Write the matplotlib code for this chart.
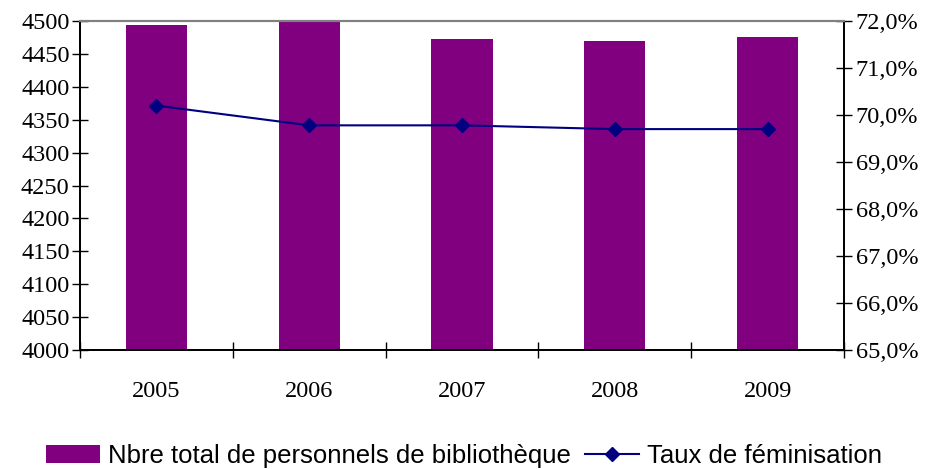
"""
Personnels de bibliothèque et taux de féminisation, 2005-2009
"""

import matplotlib
matplotlib.use("Agg")
import matplotlib.pyplot as plt
from matplotlib.ticker import FuncFormatter

# Data
years = ["2005", "2006", "2007", "2008", "2009"]
personnels = [4494, 4506, 4473, 4470, 4476]
feminisation = [70.2, 69.78, 69.78, 69.7, 69.7]

bar_label = "Nbre total de personnels de bibliothèque"
line_label = "Taux de féminisation"

fig = plt.figure(figsize=(9.28, 4.69), dpi=100)
ax = fig.add_axes([80 / 928, 1 - 350 / 469, (844 - 80) / 928, (350 - 21) / 469])

x = list(range(len(years)))
bars = ax.bar(x, personnels, width=0.4, color="#800080", zorder=2,
              label=bar_label)
ax.set_ylim(4000, 4500)
ax.set_xlim(-0.5, len(years) - 0.5)
ax.set_yticks(range(4000, 4501, 50))

# x ticks at category boundaries, labels at category centres
ax.set_xticks([i - 0.5 for i in range(len(years) + 1)])
ax.set_xticklabels([])
ax.set_xticks(x, minor=True)
ax.set_xticklabels(years, minor=True)
ax.tick_params(axis="x", which="minor", length=0, pad=22)
ax.tick_params(axis="x", which="major", direction="inout", length=11, width=1)
ax.tick_params(axis="y", direction="inout", length=11, width=1, pad=2)

# Right axis: feminisation rate
ax2 = ax.twinx()
line, = ax2.plot(x, feminisation, color="#000080", lw=1.5, marker="D",
                 markersize=7, label=line_label, zorder=3)
ax2.set_ylim(65, 72)
ax2.set_yticks(range(65, 73))
ax2.yaxis.set_major_formatter(
    FuncFormatter(lambda v, p: f"{v:.1f}%".replace(".", ",")))
ax2.tick_params(axis="y", direction="inout", length=11, width=1, pad=3)

for a in (ax, ax2):
    for lab in a.get_yticklabels() + a.get_xticklabels(minor=True):
        lab.set_fontfamily("Liberation Serif")
        lab.set_fontsize(17.5)
    a.spines["top"].set_color("#808080")
    a.spines["top"].set_linewidth(1.5)
    for s in ("left", "right", "bottom"):
        a.spines[s].set_color("black")
        a.spines[s].set_linewidth(1.3)

fig.legend([bars, line], [bar_label, line_label], loc="center",
           bbox_to_anchor=(0.5, 1 - 456 / 469), ncol=2, frameon=False,
           handlelength=2.1, handleheight=0.7, handletextpad=0.3,
           columnspacing=0.55, borderaxespad=0,
           prop={"family": "Liberation Sans", "size": 18.5})

fig.savefig("out.png", dpi=100)
